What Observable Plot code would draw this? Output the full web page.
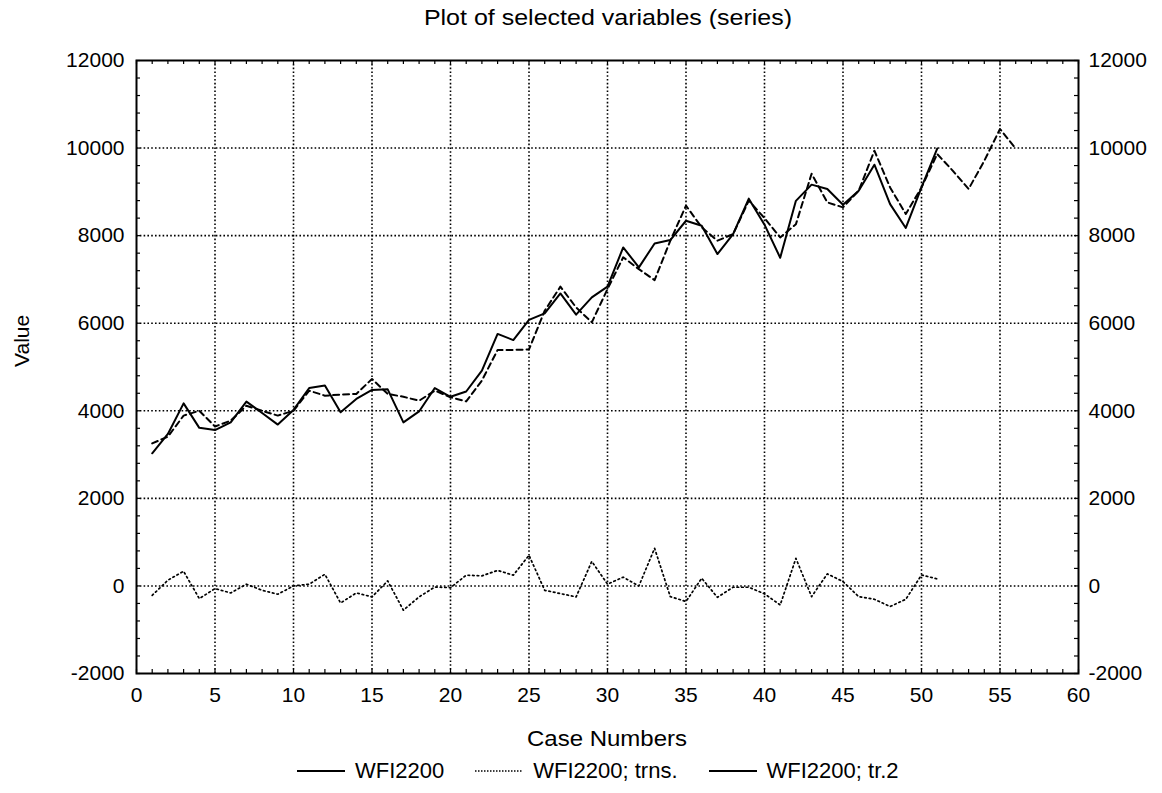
<!DOCTYPE html>
<html>
<head>
<meta charset="utf-8">
<script src="https://cdn.jsdelivr.net/npm/d3@7"></script>
<script src="https://cdn.jsdelivr.net/npm/@observablehq/plot@0.6"></script>
<style>
  body { margin: 0; background: #fff; font-family: "Liberation Sans", Arial, sans-serif; color: #000; }
  #wrap { position: relative; width: 1162px; height: 793px; overflow: hidden; }
  #title { position: absolute; top: 3px; left: 0; width: 1216px; text-align: center; font-size: 25px; transform: scaleY(0.85); }
  #xlabel { position: absolute; top: 725px; left: 0; width: 1214px; text-align: center; font-size: 24px; transform: scaleY(0.9); }
  #legend { position: absolute; top: 758px; left: 297px; display: flex; align-items: center; font-size: 22px; }
  .item { display: flex; align-items: center; margin-right: 31px; }
  .item svg { margin-right: 10px; }
</style>
</head>
<body>
<div id="wrap">
  <div id="chart"></div>
  <div id="title"></div>
  <div id="xlabel"></div>
  <div id="legend"></div>
</div>
<script>
// ---- data ----
const titleText = "Plot of selected variables (series)";
const xLabel = "Case Numbers";
const yLabel = "Value";
const seriesNames = ["WFI2200", "WFI2200; trns.", "WFI2200; tr.2"];

const wfi2200 = [3030, 3470, 4170, 3610, 3560, 3735, 4210, 3950, 3685, 4020,
  4520, 4580, 3965, 4270, 4475, 4490, 3735, 3985, 4520, 4320,
  4440, 4915, 5755, 5615, 6075, 6225, 6680, 6195, 6590, 6835,
  7730, 7275, 7820, 7900, 8340, 8225, 7580, 8035, 8845, 8250,
  7495, 8795, 9165, 9065, 8705, 9025, 9620, 8720, 8175, 9100, 9990];

const wfiTrns = [3255, 3410, 3890, 4000, 3640, 3775, 4115, 4000, 3890, 4000,
  4460, 4345, 4370, 4385, 4725, 4385, 4320, 4230, 4460, 4310,
  4215, 4690, 5390, 5390, 5400, 6285, 6835, 6360, 6020, 6780,
  7505, 7235, 6985, 7885, 8685, 8190, 7885, 8035, 8800, 8400,
  7960, 8260, 9415, 8760, 8645, 9025, 9940, 9100, 8495, 9100,
  9865, 9480, 9065, 9710, 10435, 9990];

const wfiTr2 = [-215, 130, 335, -290, -60, -160, 40, -100, -190, 0,
  40, 265, -390, -160, -250, 115, -555, -250, -25, -40,
  245, 230, 355, 245, 700, -100, -175, -250, 560, 40,
  200, 0, 860, -245, -355, 175, -260, -30, -30, -180,
  -435, 630, -245, 275, 100, -245, -305, -470, -305, 250, 160];

const xTicks = [0, 5, 10, 15, 20, 25, 30, 35, 40, 45, 50, 55, 60];
const yTicks = [-2000, 0, 2000, 4000, 6000, 8000, 10000, 12000];
const xMinorTicks = d3.range(0, 61, 1);
const yMinorTicks = d3.range(-2000, 12001, 400);

// ---- build tables ----
const toRows = (arr) => arr.map((v, i) => ({case: i + 1, value: v}));
const solidRows = toRows(wfi2200);
const dashRows = toRows(wfiTrns);
const dotRows = toRows(wfiTr2);

const W = 1162, H = 793, mT = 60, mB = 120, mL = 136, mR = 84;
const frameH = H - mT - mB, frameW = W - mL - mR;
const gridStyle = {stroke: "black", strokeOpacity: 1, strokeWidth: 1.6, strokeDasharray: "1.6,2.2"};
const fmt = d => String(d).replace("\u2212", "-");

const chart = Plot.plot({
  width: W, height: H,
  marginTop: mT, marginBottom: mB, marginLeft: mL, marginRight: mR,
  style: {fontFamily: "'Liberation Sans', Arial, sans-serif", fontSize: "21px", color: "black", background: "white", overflow: "visible"},
  x: {domain: [0, 60]},
  y: {domain: [-2000, 12000]},
  marks: [
    Plot.gridX(xTicks.slice(1, -1), gridStyle),
    Plot.gridY(yTicks.slice(1, -1), gridStyle),
    // inward minor ticks on all four sides
    Plot.tickX(xMinorTicks, {x: d => d, stroke: "black", strokeWidth: 1.2, insetTop: frameH - 4}),
    Plot.tickX(xMinorTicks, {x: d => d, stroke: "black", strokeWidth: 1.2, insetBottom: frameH - 4}),
    Plot.tickY(yMinorTicks, {y: d => d, stroke: "black", strokeWidth: 1.2, insetRight: frameW - 4}),
    Plot.tickY(yMinorTicks, {y: d => d, stroke: "black", strokeWidth: 1.2, insetLeft: frameW - 4}),
    Plot.axisX(xTicks, {anchor: "bottom", tickSize: 0, tickPadding: 14, label: null, fill: "black", tickFormat: fmt}),
    Plot.axisY(yTicks, {anchor: "left", tickSize: 0, tickPadding: 12, label: null, fill: "black", tickFormat: fmt}),
    Plot.axisY(yTicks, {anchor: "right", tickSize: 0, tickPadding: 10, label: null, fill: "black", tickFormat: fmt}),
    Plot.text([yLabel], {frameAnchor: "left", dx: -114, rotate: -90, fontSize: 21, fill: "black"}),
    Plot.line(dotRows, {x: "case", y: "value", stroke: "black", strokeWidth: 1.7, strokeDasharray: "1.6,3"}),
    Plot.line(dashRows, {x: "case", y: "value", stroke: "black", strokeWidth: 2, strokeDasharray: "6,4"}),
    Plot.line(solidRows, {x: "case", y: "value", stroke: "black", strokeWidth: 2}),
    Plot.frame({stroke: "black", strokeWidth: 2})
  ]
});
document.getElementById("chart").appendChild(chart);
document.getElementById("title").textContent = titleText;
document.getElementById("xlabel").textContent = xLabel;

// ---- legend ----
const dashes = [null, "1.5,1.5", null];
const legend = document.getElementById("legend");
seriesNames.forEach((name, i) => {
  const item = document.createElement("div");
  item.className = "item";
  const s = d3.create("svg").attr("width", 48).attr("height", 10);
  s.append("line").attr("x1", 0).attr("x2", 48).attr("y1", 5).attr("y2", 5)
    .attr("stroke", "black").attr("stroke-width", dashes[i] ? 1.5 : 2)
    .attr("stroke-dasharray", dashes[i]);
  item.appendChild(s.node());
  const t = document.createElement("span");
  t.textContent = name;
  item.appendChild(t);
  legend.appendChild(item);
});
</script>
</body>
</html>
